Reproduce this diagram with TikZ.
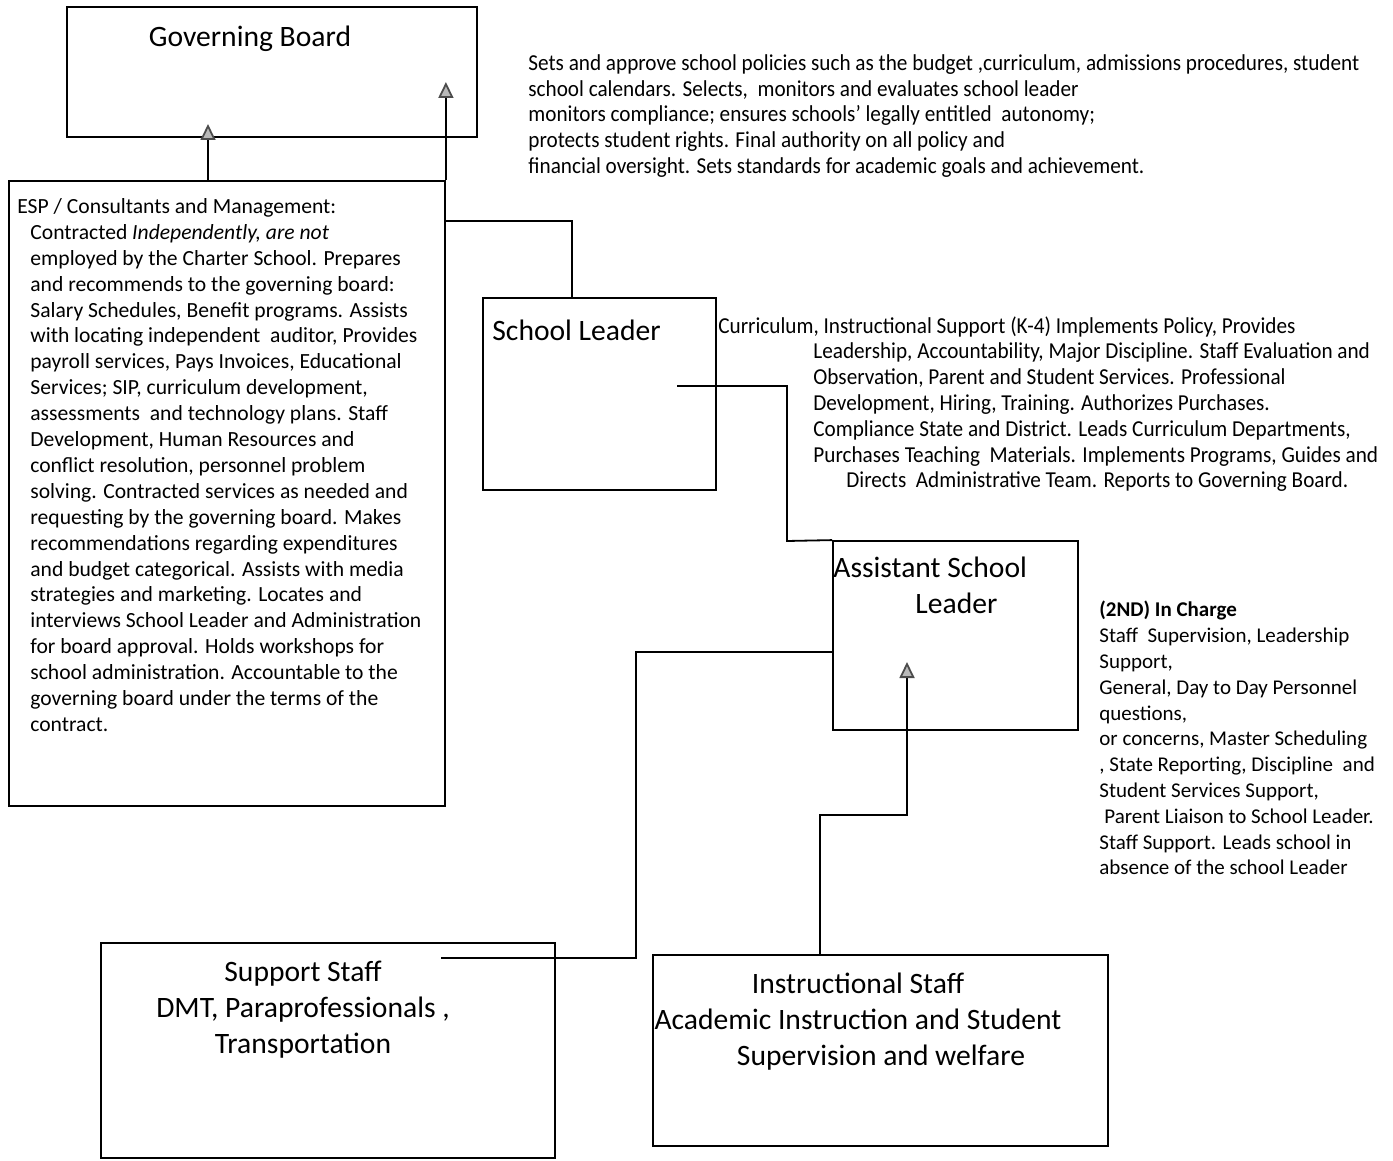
\documentclass[tikz,border=0pt]{standalone}
\usepackage{fontspec}
\setmainfont{Carlito}
\newfontfamily\narrowfont[FakeStretch=0.93]{Carlito}
\usetikzlibrary{arrows.meta,fit}

\newcommand{\ind}{\hspace*{6.5pt}}

\begin{document}
\begin{tikzpicture}[x=0.5pt,y=-0.5pt,
	box/.style={draw, line width=0.9pt, inner sep=0pt},
	title/.style={font=\fontsize{14.8}{18}\selectfont, inner sep=0pt, align=center},
	desc/.style={font=\fontsize{10.5}{12.9}\selectfont, inner sep=0pt, align=left, anchor=north west},
	narrow/.style={font=\narrowfont\fontsize{11.4}{12.9}\selectfont},
	link/.style={line width=0.9pt},
	up/.style={link, -{Triangle[length=8pt,width=7.5pt,fill=gray!55,color=gray!60!black]}}]
	\useasboundingbox (0,0) rectangle (1393,1161);
	% boxes
	\node[box, fit={(67,7) (477,137)}] (gb) {};
	\node[box, fit={(9,181) (445,806)}] (esp) {};
	\node[box, fit={(483,298) (716,490)}] (sl) {};
	\node[box, fit={(833,541) (1078,730)}] (asl) {};
	\node[box, fit={(101,943) (555,1158)}] (ss) {};
	\node[box, fit={(653,955) (1108,1146)}] (is) {};
	% titles
	\node[title] (gbt) at (250,39) {Governing Board};
	\node[title, anchor=west] (slt) at (492,330) {School Leader};
	\node[title, anchor=north west, align=left] (aslt) at (833,557) {Assistant School\\\hspace*{41pt}Leader};
	\node[title] (sst) at (303,1010) {Support Staff\\DMT, Paraprofessionals ,\\Transportation};
	\node[title] (ist) at (858,1022) {Instructional Staff\\Academic Instruction and Student\\\hspace*{23pt}Supervision and welfare};
	% descriptions
	\node[desc, narrow] (gbd) at (528,54) {Sets and approve school policies such as the budget ,curriculum, admissions procedures, student\\
		school calendars. Selects,\ \ monitors and evaluates school leader\\
		monitors compliance; ensures schools’ legally entitled\ \ autonomy;\\
		protects student rights. Final authority on all policy and\\
		financial oversight. Sets standards for academic goals and achievement.};
	\node[desc, font=\fontsize{10.8}{12.95}\selectfont] (espd) at (17,198) {ESP / Consultants and Management:\\
		\ind Contracted \textit{Independently, are not}\\
		\ind employed by the Charter School. Prepares\\
		\ind and recommends to the governing board:\\
		\ind Salary Schedules, Benefit programs. Assists\\
		\ind with locating independent\ \ auditor, Provides\\
		\ind payroll services, Pays Invoices, Educational\\
		\ind Services; SIP, curriculum development,\\
		\ind assessments\ \ and technology plans. Staff\\
		\ind Development, Human Resources and\\
		\ind conflict resolution, personnel problem\\
		\ind solving. Contracted services as needed and\\
		\ind requesting by the governing board. Makes\\
		\ind recommendations regarding expenditures\\
		\ind and budget categorical. Assists with media\\
		\ind strategies and marketing. Locates and\\
		\ind interviews School Leader and Administration\\
		\ind for board approval. Holds workshops for\\
		\ind school administration. Accountable to the\\
		\ind governing board under the terms of the\\
		\ind contract.};
	\node[desc, narrow] (sld) at (718,316) {Curriculum, Instructional Support (K-4) Implements Policy, Provides\\
		\hspace*{47.5pt}Leadership, Accountability, Major Discipline. Staff Evaluation and\\
		\hspace*{47.5pt}Observation, Parent and Student Services. Professional\\
		\hspace*{47.5pt}Development, Hiring, Training. Authorizes Purchases.\\
		\hspace*{47.5pt}Compliance State and District. Leads Curriculum Departments,\\
		\hspace*{47.5pt}Purchases Teaching\ \ Materials. Implements Programs, Guides and\\
		\hspace*{64pt}Directs\ \ Administrative Team. Reports to Governing Board.};
	\node[desc] (asld) at (1099,601) {\textbf{(2ND) In Charge}\\
		Staff\ \ Supervision, Leadership\\
		Support,\\
		General, Day to Day Personnel\\
		questions,\\
		or concerns, Master Scheduling\\
		, State Reporting, Discipline\ \ and\\
		Student Services Support,\\
		\hspace*{2.5pt}Parent Liaison to School Leader.\\
		Staff Support. Leads school in\\
		absence of the school Leader};
	% connectors
	\coordinate (gbin) at (208,124);
	\coordinate (gbin2) at (449,82);
	\coordinate (espout) at (445,221);
	\coordinate (slin) at (572,298);
	\coordinate (slout) at (677,386);
	\coordinate (bend1) at (787,541);
	\coordinate (ssout) at (441,958);
	\coordinate (bend2) at (636,652);
	\coordinate (isout) at (820,955);
	\coordinate (bend3) at (907,815);
	\coordinate (aslin) at (907,662);
	\draw[up] (esp.north -| gbin) -- (gbin);
	\draw[up] (esp.north east) -- (esp.north east |- gbin2);
	\draw[link] (espout) -| (slin);
	\draw[link] (slout) -| (bend1) -- (asl.north west);
	\draw[link] (ssout) -| (bend2) -- (asl.west |- bend2);
	\draw[up] (isout) |- (bend3) -- (aslin);
\end{tikzpicture}
\end{document}
